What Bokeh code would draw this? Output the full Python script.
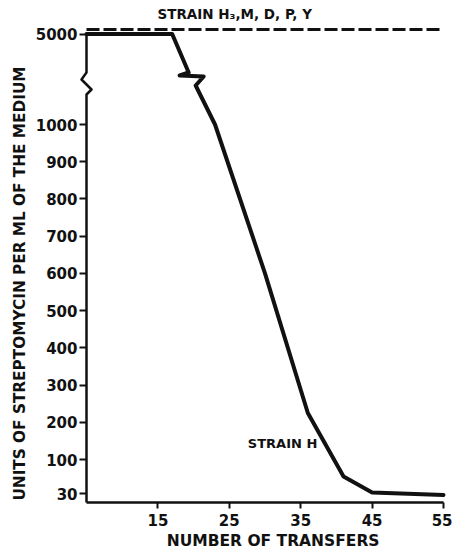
import numpy as np
from math import pi
from bokeh.plotting import figure
from bokeh.models import FixedTicker, Label
from bokeh.embed import file_html
from bokeh.resources import INLINE

# ---------------- data ----------------
transfers_H = [5, 17, 23, 30, 36, 41, 45, 55]
units_H = [5000, 5000, 1000, 600, 225, 65, 32, 27]
transfers_others = [5, 55]
units_others = [5000, 5000]
x_ticks = [15, 25, 35, 45, 55]
y_ticks = [30, 100, 200, 300, 400, 500, 600, 700, 800, 900, 1000, 5000]
y_tick_labels = ["30", "100", "200", "300", "400", "500", "600", "700", "800", "900", "1000", "5000"]

# ---------------- broken y scale ----------------
KNOT_V = [30, 100, 1000]
KNOT_P = [9, 43, 378]
TOP_P = 468.5          # position of the 5000 level above the axis break


def ypos(v):
    if v > 1000:
        return TOP_P
    if v < KNOT_V[0]:
        return KNOT_P[0] + (v - KNOT_V[0]) * (KNOT_P[1] - KNOT_P[0]) / (KNOT_V[1] - KNOT_V[0])
    return float(np.interp(v, KNOT_V, KNOT_P))


X0, X1 = 5, 55
PX = 357 / (X1 - X0)      # pixels per transfer
PAD_L, PAD_R = 86, 9      # frame padding (px) around the axis extent
PAD_B = 50                # frame padding (px) below the x axis

font = "DejaVu Sans"
black = "#111111"

p = figure(width=452, height=552, x_range=(X0 - PAD_L / PX, X1 + PAD_R / PX), y_range=(-PAD_B, 502),
           output_backend="svg", toolbar_location=None,
           min_border_left=0, min_border_right=0, min_border_top=0, min_border_bottom=0)
p.outline_line_color = None
p.grid.visible = False
p.background_fill_color = "white"
p.border_fill_color = "white"

# x axis (placed at the bottom of the data area)
xa = p.xaxis[0]
xa.fixed_location = 0
xa.ticker = FixedTicker(ticks=x_ticks)
xa.bounds = (X0, X1)
xa.axis_line_width = 2.5
xa.axis_line_color = black
xa.major_tick_out = 6
xa.major_tick_in = 0
xa.major_tick_line_width = 2
xa.major_tick_line_color = black
xa.minor_tick_line_color = None
xa.major_label_text_font = font
xa.major_label_text_font_style = "bold"
xa.major_label_text_font_size = "15px"
xa.major_label_text_color = black
xa.major_label_standoff = 5

# y axis (ticks + labels from Bokeh, placed at x = 5; axis line drawn with a break below)
ya = p.yaxis[0]
ya.fixed_location = X0
tick_pos = [round(ypos(v), 3) for v in y_ticks]
ya.ticker = FixedTicker(ticks=tick_pos)
ya.major_label_overrides = {tp: lab for tp, lab in zip(tick_pos, y_tick_labels)}
ya.axis_line_color = None
ya.major_tick_out = 7
ya.major_tick_in = 0
ya.major_tick_line_width = 2
ya.major_tick_line_color = black
ya.minor_tick_line_color = None
ya.major_label_text_font = font
ya.major_label_text_font_style = "bold"
ya.major_label_text_font_size = "15px"
ya.major_label_text_color = black
ya.major_label_standoff = 2

# y axis line with zig-zag break
AX_BREAK = 419
ax_off = [(0, -11), (5, -6), (-5, 4), (0, 11)]
ax_x = [X0] + [X0 + dx / PX for dx, dy in ax_off] + [X0]
ax_y = [0] + [AX_BREAK + dy for dx, dy in ax_off] + [TOP_P]
p.line(ax_x, ax_y, line_color=black, line_width=2.5, line_join="round")

# strain H3, M, D, P, Y : dashed, drawn just above the 5000 level
DASH_LIFT = 4.5
p.line(transfers_others, [ypos(v) + DASH_LIFT for v in units_others],
       line_color=black, line_width=3, line_dash="13 4")

# strain H : solid, with a break symbol between 17 and 23 transfers
BREAK_X, BREAK_P = 19.8, 424
br_off = [(-3.5, 6), (-12.5, 3), (11.5, 2), (3.5, -7)]
hx = [float(x) for x in transfers_H]
hy = [ypos(v) for v in units_H]
line_x = hx[:2] + [BREAK_X + dx / PX for dx, dy in br_off] + hx[2:]
line_y = hy[:2] + [BREAK_P + dy for dx, dy in br_off] + hy[2:]
p.line(line_x, line_y, line_color=black, line_width=4, line_join="round", line_cap="round")

# texts
p.add_layout(Label(x=14.94, y=489, text="STRAIN  H₃,M, D, P, Y", text_font=font,
                   text_font_style="bold", text_font_size="13.5px", text_color=black,
                   text_align="left", text_baseline="middle"))
p.add_layout(Label(x=27.6, y=59, text="STRAIN H", text_font=font,
                   text_font_style="bold", text_font_size="13px", text_color=black,
                   text_align="left", text_baseline="middle"))
p.add_layout(Label(x=X0 - 67 / PX, y=219, angle=pi / 2,
                   text="UNITS OF STREPTOMYCIN PER ML OF THE MEDIUM", text_font=font,
                   text_font_style="bold", text_font_size="15.3px", text_color=black,
                   text_align="center", text_baseline="middle"))
p.add_layout(Label(x=X0 + 192 / PX, y=-38,
                   text="NUMBER  OF  TRANSFERS", text_font=font,
                   text_font_style="bold", text_font_size="15.5px", text_color=black,
                   text_align="center", text_baseline="middle"))

open("out.html", "w").write(file_html(p, INLINE))
